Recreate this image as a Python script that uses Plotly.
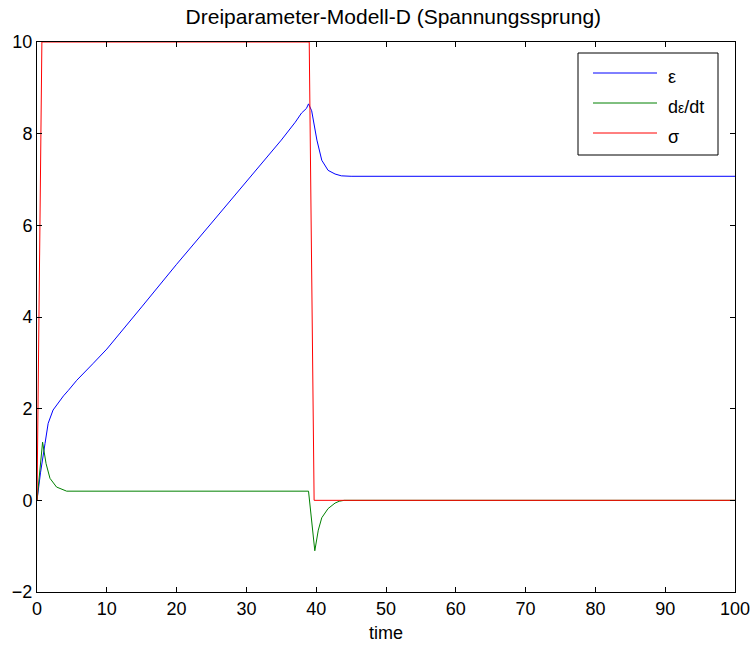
import plotly.graph_objects as go

# strain response epsilon(t)
eps_t = [0, 0.5, 1.15, 1.6, 2.3, 3.0, 3.8, 4.5, 5.7, 8, 10, 15, 20, 25, 30, 35, 37,
         37.9, 38.6, 38.9, 39.35, 40.1, 40.8, 41.7, 42.7, 43.6, 45, 100]
eps = [0, 0.6, 1.24, 1.68, 1.97, 2.12, 2.28, 2.4, 2.62, 2.98, 3.3, 4.22, 5.15, 6.05, 6.95,
       7.86, 8.25, 8.45, 8.55, 8.65, 8.5, 7.86, 7.42, 7.2, 7.12, 7.08, 7.07, 7.07]

# strain rate d(eps)/dt
deps_t = [0, 0.8, 1.3, 1.86, 2.8, 4.25, 38.9, 39.8, 40.3, 40.8, 41.7, 42.7, 43.3, 44, 100]
deps = [0, 1.27, 0.8, 0.48, 0.29, 0.2, 0.2, -1.1, -0.65, -0.38, -0.18, -0.06, -0.02, 0, 0]

# applied stress step sigma(t)
sig_t = [0, 0.7, 39.0, 39.7, 100]
sig = [0, 10, 10, 0, 0]

x_ticks = [0, 10, 20, 30, 40, 50, 60, 70, 80, 90, 100]
y_ticks = [-2, 0, 2, 4, 6, 8, 10]

series_names = ["ε", "d<span style='font-size:14px'>ε</span>/dt", "σ"]
series_colors = ["#0000ff", "#008000", "#ff0000"]

font = "Liberation Sans, Arial, Helvetica, sans-serif"

fig = go.Figure()
for tx, ty, name, col in zip([eps_t, deps_t, sig_t], [eps, deps, sig],
                             series_names, series_colors):
    fig.add_trace(go.Scatter(x=tx, y=ty, mode="lines", name=name,
                             line=dict(color=col, width=1), showlegend=False))

axis_common = dict(showline=True, linecolor="black", linewidth=1, mirror="ticks",
                   ticks="inside", ticklen=5, tickcolor="black", showgrid=False,
                   zeroline=False, automargin=False,
                   tickfont=dict(family=font, size=18, color="black"))

fig.update_xaxes(range=[0, 100], tickvals=x_ticks, title=dict(text="time", standoff=8,
                 font=dict(family=font, size=18, color="black")), **axis_common)
fig.update_yaxes(range=[-2, 10], tickvals=y_ticks, **axis_common)

# boxed legend in the upper right corner of the axes
W_PLOT, H_PLOT, L, T = 698, 550, 37, 42


def px_x(p):
    return (p - L) / W_PLOT


def px_y(p):
    return 1 - (p - T) / H_PLOT


shapes = [dict(type="rect", xref="paper", yref="paper",
               x0=px_x(578), x1=px_x(718), y0=px_y(53), y1=px_y(155),
               line=dict(color="black", width=1), fillcolor="white", layer="above")]
annotations = []
for i, (name, col) in enumerate(zip(series_names, series_colors)):
    ly = 73 + 30 * i
    shapes.append(dict(type="line", xref="paper", yref="paper",
                       x0=px_x(593), x1=px_x(657), y0=px_y(ly), y1=px_y(ly),
                       line=dict(color=col, width=1), layer="above"))
    annotations.append(dict(xref="paper", yref="paper", x=px_x(666), y=px_y(ly + 4),
                            xanchor="left", yanchor="middle", showarrow=False,
                            text=name, font=dict(family=font, size=18, color="black")))

fig.update_layout(
    width=755, height=650,
    margin=dict(l=37, r=20, t=42, b=58),
    paper_bgcolor="white", plot_bgcolor="white",
    title=dict(text="Dreiparameter-Modell-D (Spannungssprung)", x=0.521, xanchor="center",
               y=1 - 17 / 650, yanchor="middle",
               font=dict(family=font, size=21, color="black")),
    shapes=shapes, annotations=annotations,
    showlegend=False,
)

fig.write_html("out.html")
